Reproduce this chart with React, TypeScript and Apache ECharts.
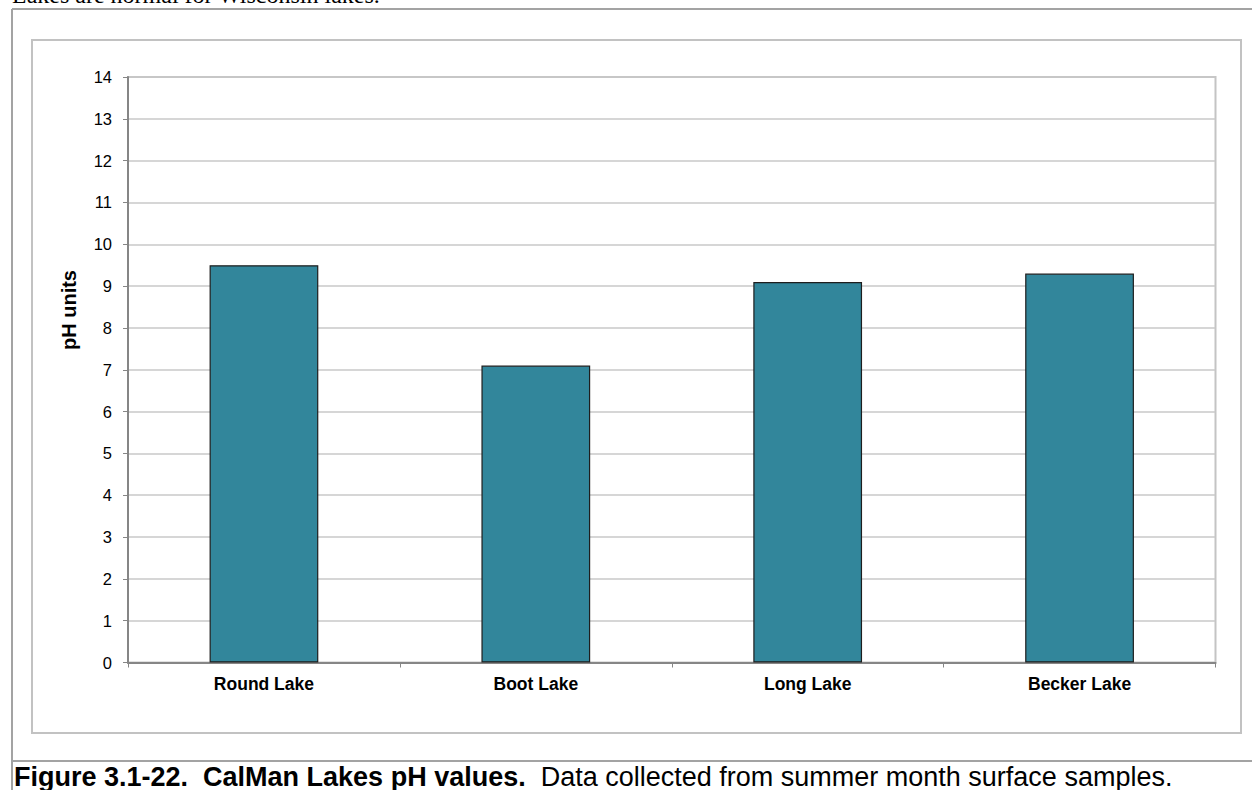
import React, { useEffect, useRef } from "react";
import * as echarts from "echarts";

const categories = ["Round Lake", "Boot Lake", "Long Lake", "Becker Lake"];
const phValues = [9.5, 7.1, 9.1, 9.3];
const yMin = 0;
const yMax = 14;
const yInterval = 1;
const yAxisTitle = "pH units";
const topText = "Lakes are normal for Wisconsin lakes.";
const captionBold = "Figure 3.1-22.  CalMan Lakes pH values.";
const captionNormal = "  Data collected from summer month surface samples.";

export default function App() {
  const ref = useRef<HTMLDivElement>(null);

  useEffect(() => {
    if (!ref.current) return;
    const chart = echarts.init(ref.current, null, { renderer: "svg" });
    const frameColor = "#a3a3a3";
    chart.setOption({
      animation: false,
      backgroundColor: "#ffffff",
      grid: {
        left: 128,
        top: 77,
        right: 36.5,
        bottom: 127.5,
        show: true,
        borderColor: "#c4c4c4",
        borderWidth: 2,
        backgroundColor: "transparent",
      },
      xAxis: {
        type: "category",
        data: categories,
        boundaryGap: true,
        axisLine: { show: true, lineStyle: { color: "#868686", width: 2 } },
        axisTick: {
          show: true,
          inside: false,
          length: 5,
          alignWithLabel: false,
          lineStyle: { color: "#868686", width: 1 },
        },
        axisLabel: {
          color: "#000000",
          fontFamily: "Liberation Sans, Arial, sans-serif",
          fontWeight: "bold",
          fontSize: 17.5,
          margin: 12,
        },
        splitLine: { show: false },
      },
      yAxis: {
        type: "value",
        min: yMin,
        max: yMax,
        interval: yInterval,
        axisLine: { show: true, lineStyle: { color: "#868686", width: 2 } },
        axisTick: { show: true, inside: false, length: 5, lineStyle: { color: "#868686", width: 1 } },
        axisLabel: {
          color: "#000000",
          fontFamily: "Liberation Sans, Arial, sans-serif",
          fontSize: 16.5,
          margin: 16,
        },
        splitLine: { show: true, lineStyle: { color: "#c8c8c8", width: 1.5 } },
      },
      series: [
        {
          type: "bar",
          data: phValues,
          barWidth: "40%",
          itemStyle: { color: "#32869b", borderColor: "#1e1e1e", borderWidth: 1.2 },
        },
      ],
      graphic: [
        {
          type: "text",
          left: 12,
          top: -17,
          style: {
            text: topText,
            font: "24px 'Liberation Serif', 'Times New Roman', serif",
            fill: "#000000",
          },
        },
        {
          type: "line",
          shape: { x1: 12, y1: 9, x2: 1252, y2: 9 },
          style: { stroke: frameColor, lineWidth: 2 },
        },
        {
          type: "line",
          shape: { x1: 12, y1: 9, x2: 12, y2: 790 },
          style: { stroke: frameColor, lineWidth: 2 },
        },
        {
          type: "line",
          shape: { x1: 12, y1: 761, x2: 1252, y2: 761 },
          style: { stroke: frameColor, lineWidth: 2 },
        },
        {
          type: "rect",
          shape: { x: 32, y: 40, width: 1209, height: 693 },
          style: { fill: "transparent", stroke: "#c2c2c2", lineWidth: 2 },
          z: -1,
        },
        {
          type: "text",
          x: 69,
          y: 310,
          rotation: Math.PI / 2,
          style: {
            text: yAxisTitle,
            font: "bold 20px 'Liberation Sans', Arial, sans-serif",
            fill: "#000000",
            align: "center",
            verticalAlign: "middle",
          },
        },
        {
          type: "text",
          x: 14,
          y: 790,
          style: {
            text: "{b|" + captionBold + "}{n|" + captionNormal + "}",
            verticalAlign: "bottom",
            rich: {
              b: {
                fontFamily: "'Liberation Sans', Arial, sans-serif",
                fontWeight: "bold",
                fontSize: 27,
                fill: "#000000",
                color: "#000000",
              },
              n: {
                fontFamily: "'Liberation Sans', Arial, sans-serif",
                fontSize: 27,
                fill: "#000000",
                color: "#000000",
              },
            },
          },
        },
      ],
    });
    return () => chart.dispose();
  }, []);

  return (
    <div
      ref={ref}
      style={{ position: "fixed", left: 0, top: 0, width: 1252, height: 790 }}
    />
  );
}
